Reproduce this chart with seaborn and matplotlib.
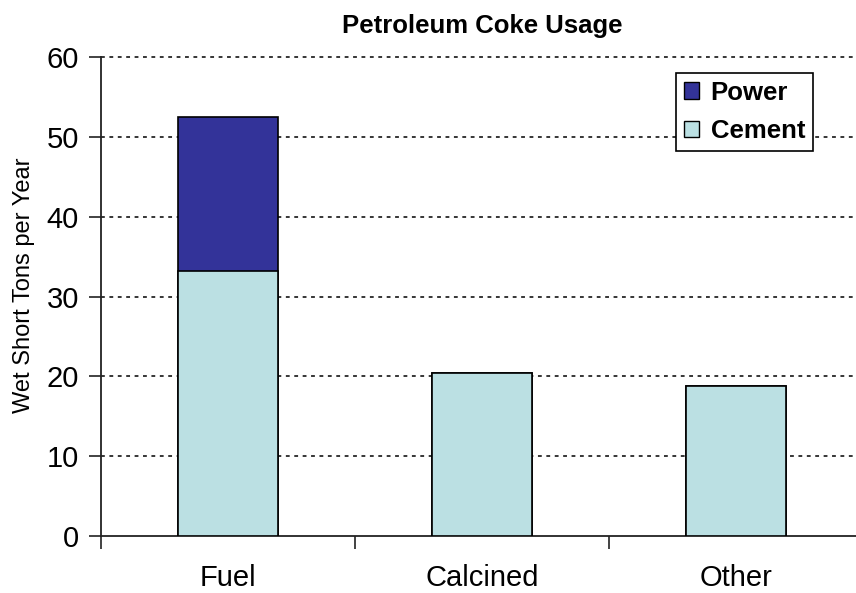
import matplotlib
matplotlib.use("Agg")
import matplotlib.pyplot as plt
import seaborn as sns
import pandas as pd
from matplotlib.patches import Patch
from matplotlib.ticker import FixedLocator, NullFormatter

categories = ["Fuel", "Calcined", "Other"]
cement = [33.2, 20.4, 18.8]
power = [19.3, 0.0, 0.0]
yticks = [0, 10, 20, 30, 40, 50, 60]

power_color = "#333399"
cement_color = "#BBE0E3"

sns.set_theme(style="white")
plt.rcParams["font.family"] = ["Liberation Sans", "DejaVu Sans"]
plt.rcParams["text.color"] = "black"
plt.rcParams["axes.labelcolor"] = "black"
plt.rcParams["xtick.color"] = "black"
plt.rcParams["ytick.color"] = "black"

df = pd.DataFrame({"category": categories, "cement": cement, "power": power})
df["total"] = df["cement"] + df["power"]

fig = plt.figure(figsize=(8.56, 5.93), dpi=100)
ax_w, ax_h = 762, 479
ax = fig.add_axes([101 / 856, 57 / 593, ax_w / 856, ax_h / 593])

# stacked bars: total in the power colour, cement drawn on top of it
sns.barplot(data=df, x="category", y="total", color=power_color, width=0.39,
            edgecolor="black", linewidth=1.2, saturation=1, ax=ax, zorder=3)
sns.barplot(data=df, x="category", y="cement", color=cement_color, width=0.39,
            edgecolor="black", linewidth=1.2, saturation=1, ax=ax, zorder=4)

ax.set_xlim(-0.5, 2.5)
ax.set_ylim(0, 60)
ax.set_yticks(yticks)
ax.set_yticklabels([str(t) for t in yticks], fontsize=21)

# category labels without ticks, separator ticks between categories
ax.set_xticks(range(len(categories)))
ax.set_xticklabels(categories, fontsize=21)
ax.tick_params(axis="x", which="major", length=0, pad=20)
ax.xaxis.set_minor_locator(FixedLocator([-0.5, 0.5, 1.5, 2.5]))
ax.xaxis.set_minor_formatter(NullFormatter())
ax.tick_params(axis="x", which="minor", direction="out", length=9, width=1.2,
               color="#222222", bottom=True)
ax.tick_params(axis="y", direction="out", length=9, width=1.2, color="#222222",
               left=True, pad=7)

# dotted horizontal grid, stopping just short of the right edge
for t in yticks[1:]:
    ax.plot([-0.5, 2.47], [t, t], color="black", linestyle=(0, (2.5, 3)),
            linewidth=1.1, zorder=1, clip_on=False)

ax.set_xlabel("")
ax.set_ylabel("Wet Short Tons per Year", fontsize=17)
ax.yaxis.set_label_coords(-0.087, 0.524)
ax.set_title("Petroleum Coke Usage", fontsize=18.5, fontweight="bold", pad=17)

for side in ["top", "right"]:
    ax.spines[side].set_visible(False)
for side in ["left", "bottom"]:
    ax.spines[side].set_color("#222222")
    ax.spines[side].set_linewidth(1.3)

handles = [Patch(facecolor=power_color, edgecolor="black", label="Power"),
           Patch(facecolor=cement_color, edgecolor="black", label="Cement")]
leg = ax.legend(handles=handles, loc="upper left",
                bbox_to_anchor=((676 - 101) / ax_w, 1 - 16 / ax_h),
                prop={"weight": "bold", "size": 18.5}, frameon=True, fancybox=False,
                handlelength=0.6, handleheight=0.6, handletextpad=0.45,
                borderpad=0.3, labelspacing=0.55, borderaxespad=0)
leg.get_frame().set_edgecolor("black")
leg.get_frame().set_linewidth(1.2)
leg.get_frame().set_alpha(1)
leg.set_zorder(5)

fig.savefig("out.png", dpi=100)
